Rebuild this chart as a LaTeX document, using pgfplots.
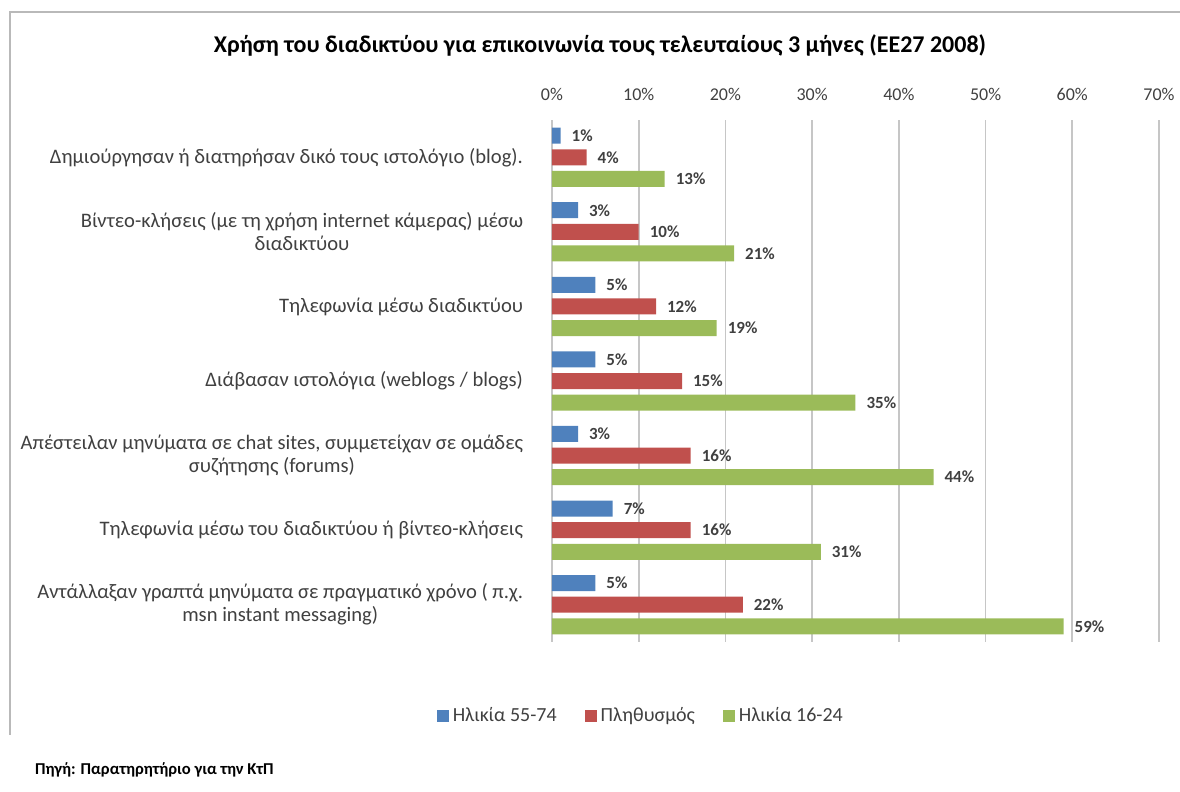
\documentclass[border=0pt]{standalone}
\usepackage{fontspec}
\setmainfont{Carlito}
\usepackage{pgfplots}
\pgfplotsset{compat=1.18}
\definecolor{cblue}{HTML}{4F81BD}
\definecolor{cred}{HTML}{C0504D}
\definecolor{cgreen}{HTML}{9BBB59}
\definecolor{txt}{HTML}{404040}
\begin{document}
\begin{tikzpicture}
\path[use as bounding box] (0,0) rectangle (590pt,396pt);
\draw[gray!55, line width=1pt] (5pt,28.5pt) -- (5pt,390pt) -- (590pt,390pt);
\node[font=\fontsize{12}{14}\selectfont\bfseries, text=black] at (300pt,373.5pt)
  {Χρήση του διαδικτύου για επικοινωνία τους τελευταίους 3 μήνες (ΕΕ27 2008)};
\node[anchor=west, font=\fontsize{8.3}{10}\selectfont\bfseries, text=black] at (14pt,11pt)
  {Πηγή: Παρατηρητήριο για την ΚτΠ};
\begin{axis}[
  at={(276pt,75pt)}, anchor=south west,
  scale only axis, width=303.5pt, height=261pt,
  xbar, bar shift=0pt, bar width=8pt,
  xmin=0, xmax=70, ymin=-0.5, ymax=6.5, y dir=reverse,
  axis line style={draw=none},
  tick style={draw=none},
  xmajorgrids, grid style={gray!45, line width=0.8pt},
  xtick={0,10,...,70},
  xticklabels={0\%,10\%,20\%,30\%,40\%,50\%,60\%,70\%},
  xticklabel pos=upper,
  xticklabel style={font=\fontsize{9}{10}\selectfont, text=txt, yshift=6pt},
  ytick={0,...,6},
  yticklabels={
    {Δημιούργησαν ή διατηρήσαν δικό τους ιστολόγιο (blog).},
    {Βίντεο-κλήσεις (με τη χρήση internet κάμερας) μέσω\\διαδικτύου},
    {Τηλεφωνία μέσω διαδικτύου},
    {Διάβασαν ιστολόγια (weblogs / blogs)},
    {Απέστειλαν μηνύματα σε chat sites, συμμετείχαν σε ομάδες\\συζήτησης (forums)},
    {Τηλεφωνία μέσω του διαδικτύου ή βίντεο-κλήσεις},
    {Αντάλλαξαν γραπτά μηνύματα σε πραγματικό χρόνο ( π.χ.\\msn instant messaging)}},
  yticklabel style={font=\fontsize{10.3}{11.5}\selectfont, text=txt, align=center, inner sep=0pt, xshift=-10pt},
  point meta=x,
  nodes near coords={\pgfmathprintnumber[assume math mode=true]{\pgfplotspointmeta}\%},
  nodes near coords style={font=\fontsize{8.5}{10}\selectfont\bfseries, text=txt, anchor=west, xshift=2pt},
  legend style={at={(0.148,-0.142)}, anchor=center, draw=none, fill=none,
    legend columns=3, font=\fontsize{10}{12}\selectfont, text=txt,
    /tikz/every even column/.append style={column sep=12pt}},
  legend image code/.code={\fill[#1, draw=none] (0pt,-3pt) rectangle (6pt,3pt);},
]
\addplot[fill=cblue, draw=none] coordinates {(1,-0.29) (3,0.71) (5,1.71) (5,2.71) (3,3.71) (7,4.71) (5,5.71)};
\addplot[fill=cred, draw=none] coordinates {(4,0) (10,1) (12,2) (15,3) (16,4) (16,5) (22,6)};
\addplot[fill=cgreen, draw=none] coordinates {(13,0.29) (21,1.29) (19,2.29) (35,3.29) (44,4.29) (31,5.29) (59,6.29)};
\legend{Ηλικία 55-74, Πληθυσμός, Ηλικία 16-24}
\end{axis}
\end{tikzpicture}
\end{document}
